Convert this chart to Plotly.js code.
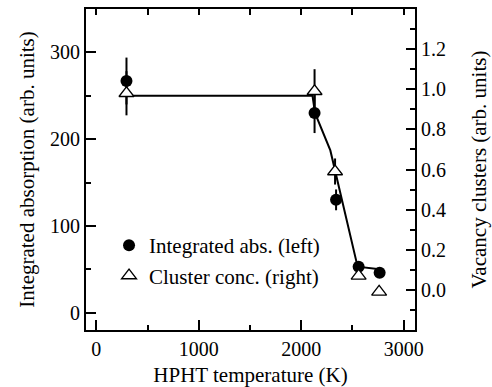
<!DOCTYPE html>
<html>
<head>
<meta charset="utf-8">
<script src="https://cdn.plot.ly/plotly-3.0.1.min.js"></script>
<style>
  body { margin: 0; background: #fff; }
  #chart text { font-family: 'Liberation Serif', 'Times New Roman', 'DejaVu Serif', serif !important; }
</style>
</head>
<body>
<div id="chart"></div>
<script>
// Integrated absorption (left axis) vs. HPHT annealing temperature
const absTemp = [295, 2130, 2340, 2560, 2765];
const absValue = [267, 230, 130, 53, 46];
const absError = [27, 23, 12, 0, 0];

// Vacancy cluster concentration (right axis)
const clusterTemp = [295, 2130, 2330, 2560, 2760];
const clusterValue = [0.98, 0.99, 0.59, 0.07, -0.01];
const clusterError = [0.11, 0.11, 0.065, 0, 0];

// Guide line through the absorption data (left-axis units)
const guideTemp = [295, 2110, 2135, 2284, 2550, 2765];
const guideValue = [250, 250, 230, 187, 53, 50];

// Axis tick labels
const tempTicks = [0, 1000, 2000, 3000];
const absTicks = [0, 100, 200, 300];
const clusterTicks = [0, 0.2, 0.4, 0.6, 0.8, 1.0, 1.2];
const clusterTickText = ['0.0', '0.2', '0.4', '0.6', '0.8', '1.0', '1.2'];

const FAMILY = 'Liberation Serif';
const INK = '#000000';
const tickFont = {family: FAMILY, size: 20, color: INK};
const titleFont = {family: FAMILY, size: 21, color: INK};
const legendFont = {family: FAMILY, size: 21, color: INK};

const traces = [
  {
    x: guideTemp, y: guideValue, xaxis: 'x', yaxis: 'y',
    mode: 'lines', line: {color: INK, width: 2},
    showlegend: false, hoverinfo: 'skip'
  },
  {
    x: absTemp, y: absValue, xaxis: 'x', yaxis: 'y',
    name: 'Integrated abs. (left)',
    mode: 'markers',
    marker: {symbol: 'circle', size: 12, color: INK},
    error_y: {type: 'data', array: absError, visible: true, color: INK, thickness: 2, width: 0}
  },
  {
    x: clusterTemp, y: clusterValue, xaxis: 'x', yaxis: 'y2',
    name: 'Cluster conc. (right)',
    mode: 'markers',
    marker: {symbol: 'triangle-up', size: 13, color: '#ffffff', line: {color: INK, width: 1.3}},
    error_y: {type: 'data', array: clusterError, visible: true, color: INK, thickness: 2, width: 0}
  },
  // carries the top axis ticks
  {
    x: [0], y: [0], xaxis: 'x2', yaxis: 'y',
    mode: 'markers', marker: {opacity: 0}, showlegend: false, hoverinfo: 'skip'
  }
];

const layout = {
  width: 492, height: 387,
  margin: {l: 86, r: 77, t: 9, b: 57},
  paper_bgcolor: '#ffffff', plot_bgcolor: '#ffffff',
  font: {family: FAMILY, size: 20, color: INK},
  showlegend: true,
  legend: {
    x: 0.07, y: 0.327, xanchor: 'left', yanchor: 'top',
    bgcolor: 'rgba(0,0,0,0)', borderwidth: 0,
    font: legendFont,
    tracegroupgap: 0, itemwidth: 30
  },
  xaxis: {
    range: [-100, 3110],
    showgrid: false, zeroline: false,
    showline: true, linecolor: INK, linewidth: 2,
    ticks: 'inside', ticklen: 10, tickwidth: 2, tickcolor: INK,
    tickmode: 'array', tickvals: tempTicks,
    minor: {ticks: 'inside', ticklen: 5, tickwidth: 2, tickcolor: INK, tick0: 0, dtick: 500, showgrid: false},
    tickfont: tickFont,
    title: {text: 'HPHT temperature (K)', font: titleFont, standoff: 8}
  },
  xaxis2: {
    overlaying: 'x', side: 'top', matches: 'x',
    range: [-100, 3110],
    showgrid: false, zeroline: false,
    showline: true, linecolor: INK, linewidth: 2,
    ticks: 'inside', ticklen: 6, tickwidth: 2, tickcolor: INK,
    tick0: 0, dtick: 500, showticklabels: false
  },
  yaxis: {
    range: [-20, 350],
    showgrid: false, zeroline: false,
    showline: true, linecolor: INK, linewidth: 2,
    ticks: 'inside', ticklen: 10, tickwidth: 2, tickcolor: INK,
    tickmode: 'array', tickvals: absTicks,
    minor: {ticks: 'inside', ticklen: 5, tickwidth: 2, tickcolor: INK, tick0: 0, dtick: 50, showgrid: false},
    tickfont: tickFont,
    title: {text: 'Integrated absorption (arb. units)', font: titleFont, standoff: 10}
  },
  yaxis2: {
    overlaying: 'y', side: 'right',
    range: [-0.2, 1.4],
    showgrid: false, zeroline: false,
    showline: true, linecolor: INK, linewidth: 2,
    ticks: 'inside', ticklen: 9, tickwidth: 2, tickcolor: INK,
    tickmode: 'array', tickvals: clusterTicks, ticktext: clusterTickText,
    minor: {ticks: 'inside', ticklen: 5, tickwidth: 2, tickcolor: INK, tick0: 0, dtick: 0.1, showgrid: false},
    tickfont: tickFont,
    title: {text: 'Vacancy clusters (arb. units)', font: titleFont, standoff: 26}
  }
};

Plotly.newPlot('chart', traces, layout, {displayModeBar: false, staticPlot: true});
</script>
</body>
</html>
